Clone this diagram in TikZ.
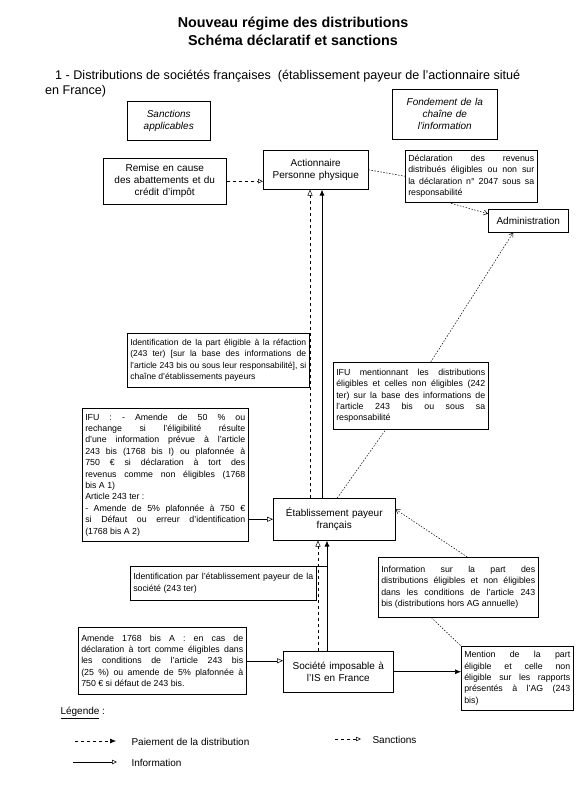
\documentclass[tikz,border=0pt]{standalone}
\usepackage{fontspec}
\setmainfont{Liberation Sans}
\usetikzlibrary{arrows.meta}
\begin{document}
\begin{tikzpicture}[x=1pt,y=-1pt,
  box/.style={draw, line width=0.5pt, inner xsep=3pt, inner ysep=2pt, anchor=north west},
  small/.style={font=\fontsize{8.8}{11.4}\selectfont, align=justify},
  entity/.style={font=\fontsize{10}{12}\selectfont, align=center},
  ital/.style={font=\itshape\fontsize{10}{12}\selectfont, align=center},
  payline/.style={line width=0.9pt, -{Latex[length=6pt,width=5pt]}},
  infoline/.style={line width=0.5pt, dashed, -{Triangle[open,length=6pt,width=5pt]}},
  sancline/.style={line width=0.5pt, -{Triangle[open,length=6pt,width=5pt]}},
  sancdash/.style={line width=0.5pt, dashed, -{Triangle[open,length=5pt,width=4.5pt]}},
  dotline/.style={line width=0.5pt, dash pattern=on 1.5pt off 1.5pt},
  dotarrow/.style={dotline, -{Straight Barb[length=4pt,width=5pt]}},
  legtext/.style={anchor=west, font=\fontsize{10}{12}\selectfont}
]
\useasboundingbox (0,0) rectangle (584,806);

% titles
\node[font=\bfseries\fontsize{14.3}{18}\selectfont, align=center] (title) at (293,31)
  {Nouveau régime des distributions\\Schéma déclaratif et sanctions};
\node[anchor=base west, font=\fontsize{12.6}{15}\selectfont, inner sep=0pt] (sub1) at (55,79)
  {1 - Distributions de sociétés françaises~ (établissement payeur de l'actionnaire situé};
\node[anchor=base west, font=\fontsize{12.6}{15}\selectfont, inner sep=0pt] (sub2) at (45,94)
  {en France)};

% header boxes
\node[box, ital, text width=77pt, minimum height=39pt] (sanc) at (127,101)
  {Sanctions\\applicables};
\node[box, ital, text width=99pt, minimum height=50pt] (fond) at (392,89)
  {Fondement de la\\chaîne de\\l'information};

% top row
\node[box, entity, text width=117pt, minimum height=46pt] (remise) at (103,158)
  {Remise en cause\\des abattements et du\\crédit d'impôt};
\node[box, entity, text width=99pt, minimum height=39pt] (action) at (263,150)
  {Actionnaire\\Personne physique};
\node[box, small, text width=126pt, minimum height=52pt] (decl) at (405,150)
  {Déclaration des revenus\linebreak distribués éligibles ou non sur\linebreak la déclaration n° 2047 sous sa\linebreak responsabilité};
\node[box, entity, text width=74pt, minimum height=23pt] (admin) at (488,209)
  {Administration};

% middle
\node[box, small, font=\fontsize{8.6}{11.6}\selectfont, text width=176pt, minimum height=54pt] (ident) at (127,333)
  {Identification de la part éligible à la réfaction\linebreak (243 ter) [sur la base des informations de\linebreak l'article 243 bis ou sous leur responsabilité], si\linebreak chaîne d'établissements payeurs};
\node[box, small, text width=149pt, minimum height=67pt] (ifum) at (333,362)
  {IFU mentionnant les distributions\linebreak éligibles et celles non éligibles (242\linebreak ter) sur la base des informations de\linebreak l'article 243 bis ou sous sa\linebreak responsabilité};
\node[box, small, text width=160pt, minimum height=133pt] (ifua) at (82,408)
  {IFU : - Amende de 50 \% ou\linebreak rechange si l'éligibilité résulte\linebreak d'une information prévue à l'article\linebreak 243 bis (1768 bis I) ou plafonnée à\linebreak 750 € si déclaration à tort des\linebreak revenus comme non éligibles (1768\linebreak bis A 1)\\
  Article 243 ter :\\
  - Amende de 5\% plafonnée à 750 €\linebreak si Défaut ou erreur d'identification\linebreak (1768 bis A 2)};
\node[box, entity, text width=116pt, minimum height=42pt] (etab) at (273,498)
  {Établissement payeur\\français};

% lower
\node[box, small, text width=154pt, minimum height=60pt] (infob) at (378,557)
  {Information sur la part des\linebreak distributions éligibles et non éligibles\linebreak dans les conditions de l'article 243\linebreak bis (distributions hors AG annuelle)};
\node[box, small, text width=180pt, minimum height=34pt] (idpar) at (130,566)
  {Identification par l'établissement payeur de la\linebreak société (243 ter)};
\node[box, small, text width=162pt, minimum height=67pt] (amende) at (78,627)
  {Amende 1768 bis A : en cas de\linebreak déclaration à tort comme éligibles dans\linebreak les conditions de l'article 243 bis\linebreak (25 \%) ou amende de 5\% plafonnée à\linebreak 750 € si défaut de 243 bis.};
\node[box, entity, text width=104pt, minimum height=41pt] (soc) at (283,651)
  {Société imposable à\\l'IS en France};
\node[box, small, text width=106pt, minimum height=64pt] (mention) at (461,646)
  {Mention de la part\linebreak éligible et celle non\linebreak éligible sur les rapports\linebreak présentés à l'AG (243\linebreak bis)};

% vertical line positions
\coordinate (xa) at (310,0);
\coordinate (xb) at (322,0);
\coordinate (xc) at (318,0);
\coordinate (xd) at (327,0);

% connectors
\draw[sancdash] (remise.east) -- (remise.east -| action.west);
\draw[dotline] (action.east) -- (decl.west);
\draw[dotarrow] ([xshift=-23pt]decl.south) -- ([yshift=7pt]admin.west);
\draw[dotarrow] ([xshift=20pt]ifum.north) -- ([xshift=-15pt]admin.south);
\draw[dotline] ([xshift=3pt]etab.north) -- ([xshift=-25pt]ifum.south);
\draw[dotarrow] ([xshift=9pt]infob.north) -- ([yshift=10pt]etab.east);
\draw[dotline] ([xshift=-27pt]infob.south) -- (mention.north west);

\draw[infoline] (etab.north -| xa) -- (action.south -| xa);
\draw[payline] (etab.north -| xb) -- (action.south -| xb);
\draw[infoline] (soc.north -| xc) -- (etab.south -| xc);
\draw[payline] (soc.north -| xd) -- (etab.south -| xd);
\draw[line width=0.5pt] (idpar.north east) -- (idpar.north east -| xd);

\draw[sancline] (etab.west -| ifua.east) -- (etab.west);
\draw[sancline] (amende.east) -- (amende.east -| soc.west);
\draw[payline, line width=0.6pt] (soc.east) -- (soc.east -| mention.west);

% legend
\node[anchor=west, font=\fontsize{10}{12}\selectfont] (leg) at (57,713) {\underline{Légende} :};
\coordinate (l1a) at (75,741);
\coordinate (l1b) at (116,741);
\coordinate (l2a) at (73,762);
\coordinate (l2b) at (117,762);
\coordinate (l3a) at (335,739);
\coordinate (l3b) at (361,739);
\draw[line width=0.6pt, dashed, -{Latex[length=6pt,width=5pt]}] (l1a) -- (l1b);
\draw[line width=0.5pt, -{Triangle[open,length=5pt,width=4.5pt]}] (l2a) -- (l2b);
\draw[sancdash] (l3a) -- (l3b);
\node[legtext] (t1) at (128,742) {Paiement de la distribution};
\node[legtext] (t2) at (128,763) {Information};
\node[legtext] (t3) at (369,740) {Sanctions};
\end{tikzpicture}
\end{document}
